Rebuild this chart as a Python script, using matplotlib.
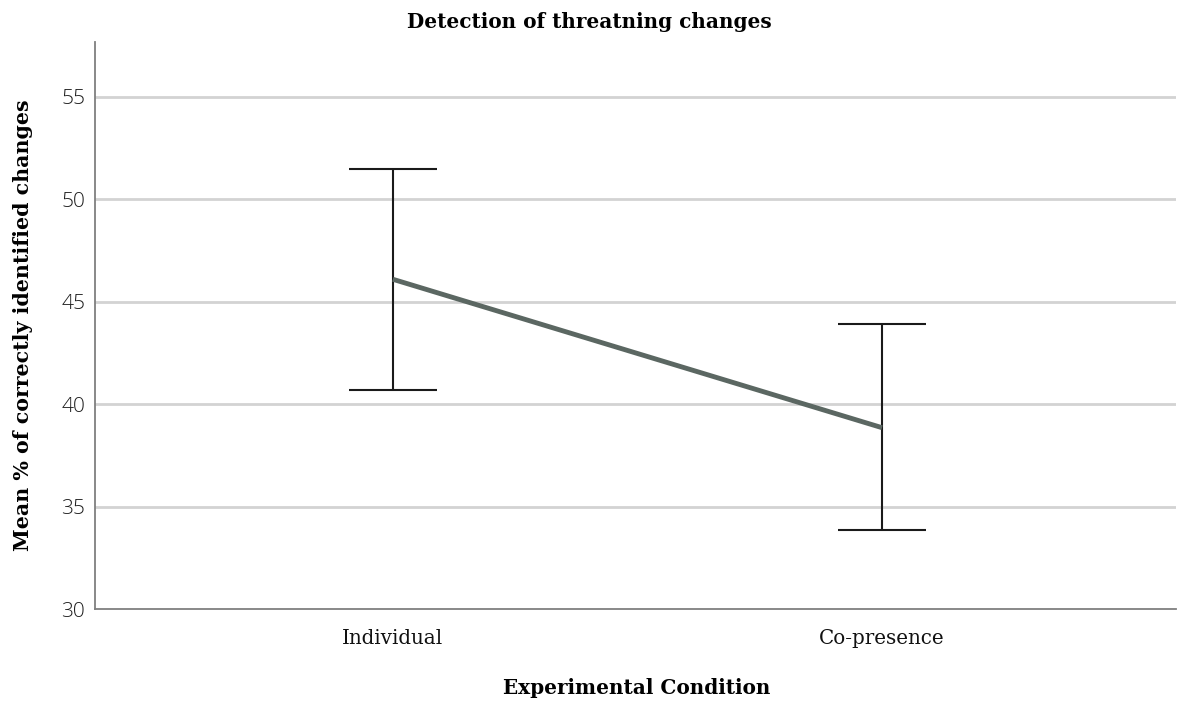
import matplotlib
matplotlib.use("Agg")
import matplotlib.pyplot as plt

# values
conditions = ["Individual", "Co-presence"]
means = [46.1, 38.86]
ci_upper = [51.5, 43.92]
ci_lower = [40.72, 33.86]
y_ticks = [30, 35, 40, 45, 50, 55]

W, H = 1178, 702
fig = plt.figure(figsize=(W / 100, H / 100), dpi=100)
ax = fig.add_axes([95 / W, 1 - 609.3 / H, (1176 - 95) / W, (609.3 - 41.7) / H])

x = list(range(len(conditions)))
err_low = [m - lo for m, lo in zip(means, ci_lower)]
err_high = [hi - m for m, hi in zip(means, ci_upper)]

for yv in y_ticks[1:]:
    ax.axhline(yv, color="#d3d3d3", lw=2, zorder=1)

ax.errorbar(x, means, yerr=[err_low, err_high], fmt="none", ecolor="#1a1a1a",
            elinewidth=1.5, capsize=32, capthick=1.5, zorder=2)
ax.plot(x, means, color="#5b6762", lw=3.5, zorder=3, solid_capstyle="butt")

ax.set_xlim(-0.609, 1.601)
ax.set_ylim(30, 57.69)
ax.set_xticks(x)
ax.set_xticklabels(conditions, family="DejaVu Serif", fontsize=14.3, color="#111111")
ax.set_yticks(y_ticks)
ax.set_yticklabels([str(v) for v in y_ticks], family="Open Sans", fontweight="light",
                   fontsize=15, color="#1e1e1e")
ax.tick_params(axis="y", length=0, pad=7)
ax.tick_params(axis="x", length=0, pad=14)

for side in ["top", "right"]:
    ax.spines[side].set_visible(False)
for side in ["left", "bottom"]:
    ax.spines[side].set_color("#7f7f7f")
    ax.spines[side].set_linewidth(1.3)

fig.text(0.5, 1 - 22 / H, "Detection of threatning changes", family="DejaVu Serif",
         fontweight="bold", fontsize=14.4, ha="center", va="center")
fig.text(637 / W, 1 - 688 / H, "Experimental Condition", family="DejaVu Serif",
         fontweight="bold", fontsize=14.4, ha="center", va="center")
fig.text(23 / W, 1 - 325 / H, "Mean % of correctly identified changes",
         family="DejaVu Serif", fontweight="bold", fontsize=14.8,
         rotation=90, ha="center", va="center")

fig.savefig("out.png", dpi=100)
